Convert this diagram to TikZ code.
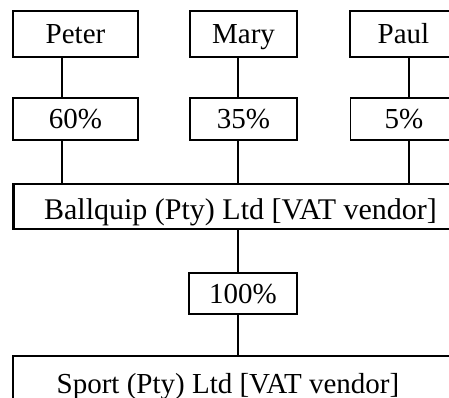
\documentclass[tikz,border=0pt]{standalone}
\usepackage{fontspec}
\setmainfont{Liberation Serif}
\begin{document}
\begin{tikzpicture}[x=1pt,y=-1pt,
  every node/.style={font=\fontsize{29}{31}\selectfont, inner sep=0pt, text height=19pt, text depth=0pt},
  bigfont/.style={font=\fontsize{30}{32}\selectfont},
  bigbox/.style={draw, line width=2.4pt, minimum height=46pt},
  pctbox/.style={draw, line width=1.8pt, minimum height=42pt},
  conn/.style={line width=1.8pt}]
\useasboundingbox (0,0) rectangle (449,397);
\clip (0,0) rectangle (449,397);
% owners
\node[bigbox, minimum width=125pt] (peter) at (75.5,34) {Peter};
\node[bigbox, minimum width=107pt] (mary) at (243.5,34) {Mary};
\node[bigbox, minimum width=107pt] (paul) at (403.5,34) {Paul};
% percentages
\node[pctbox, minimum width=125pt] (p60) at (75.5,119) {60\%};
\node[pctbox, minimum width=107pt] (p35) at (243.5,119) {35\%};
\node[pctbox, minimum width=107pt] (p5) at (404,119) {5\%};
% companies
\node[bigbox, bigfont, minimum width=454pt, minimum height=45pt, text height=25pt] (ball) at (240.5,206.5) {Ballquip (Pty) Ltd [VAT vendor]};
\node[pctbox, minimum width=108pt, minimum height=41pt] (p100) at (243,293.5) {100\%};
\node[bigbox, minimum width=454pt, minimum height=60pt] (sport) at (240,386) {};
\node[anchor=base] (sporttext) at (228,393) {Sport (Pty) Ltd [VAT vendor]};
% connector columns
\coordinate (c1) at (62,0);
\coordinate (c2) at (238,0);
\coordinate (c3) at (409,0);
\draw[conn] (peter.south -| c1) -- (p60.north -| c1);
\draw[conn] (mary.south -| c2) -- (p35.north -| c2);
\draw[conn] (paul.south -| c3) -- (p5.north -| c3);
\draw[conn] (p60.south -| c1) -- (ball.north -| c1);
\draw[conn] (p35.south -| c2) -- (ball.north -| c2);
\draw[conn] (p5.south -| c3) -- (ball.north -| c3);
\draw[conn] (ball.south -| c2) -- (p100.north -| c2);
\draw[conn] (p100.south -| c2) -- (sport.north -| c2);
\end{tikzpicture}
\end{document}
